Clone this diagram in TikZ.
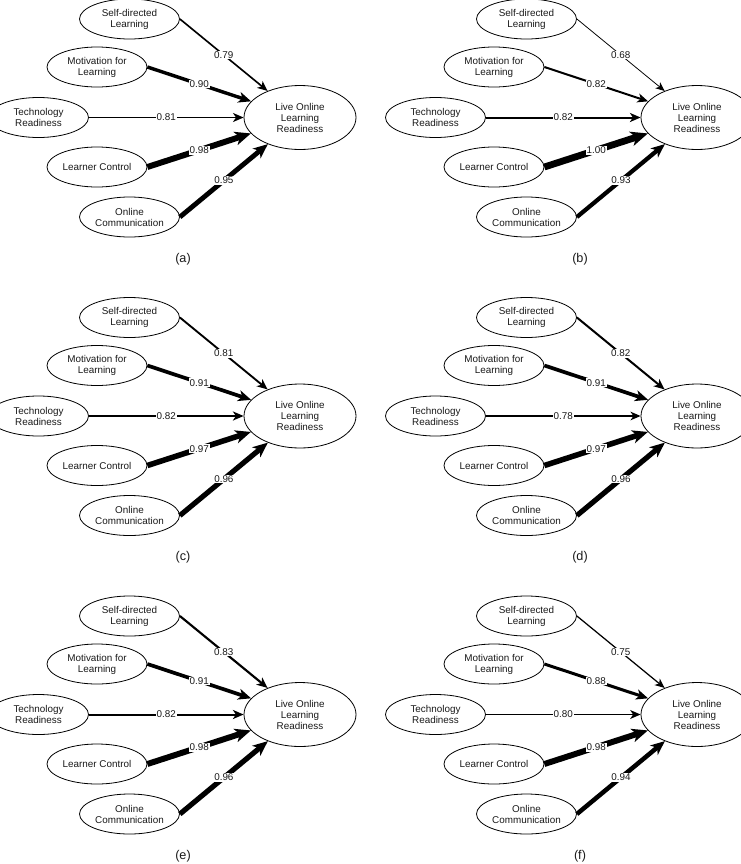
\documentclass[tikz,border=0pt]{standalone}
\usepackage{fontspec}
\setmainfont{Liberation Sans}
\usetikzlibrary{arrows.meta,shapes.geometric}
\definecolor{ink}{HTML}{1A1A1A}
\tikzset{
  nodefont/.style={font=\fontsize{7.4pt}{8.25pt}\selectfont, text=ink},
  src/.style={ellipse, draw, line width=0.6pt, fill=white, inner sep=0pt, minimum width=75, minimum height=30},
  tgt/.style={ellipse, draw, line width=0.6pt, fill=white, inner sep=0pt, minimum width=84, minimum height=48, align=center, nodefont},
  txt/.style={align=center, inner sep=0pt, nodefont},
  lab/.style={midway, fill=white, inner sep=0.6pt, nodefont},
  captext/.style={font=\fontsize{9.5pt}{11pt}\selectfont, text=ink},
  conn/.style={-{Stealth[length=6pt 1.35, width'=0pt 0.85, inset'=0pt 0.28]}},
  coef/.style={line width={0.58pt*exp(6.8*(#1-0.68))}}
}
\newcommand{\sempanel}[8]{%
\begin{scope}[shift={(#1,#2)}]
  \node[tgt] (#3lo) at (300,117.5) {Live Online\\Learning\\Readiness};
  \node[src] (#3sd) at (129.5,19) {};
  \node[txt] (#3sdt) at (#3sd) {Self-directed\\Learning};
  \node[src] (#3mf) at (97,67) {};
  \node[txt] (#3mft) at (#3mf) {Motivation for\\Learning};
  \node[src] (#3tr) at (38.5,117.5) {};
  \node[txt] (#3trt) at (#3tr) {Technology\\Readiness};
  \node[src] (#3lc) at (97,167) {};
  \node[txt] (#3lct) at (#3lc) {Learner Control};
  \node[src] (#3oc) at (129.5,217) {};
  \node[txt] (#3oct) at (#3oc) {Online\\Communication};
  \draw[conn, coef=#4] (#3sd.east) -- (#3lo) node[lab] (#3l1) {#4};
  \draw[conn, coef=#5] (#3mf.east) -- (#3lo) node[lab] (#3l2) {#5};
  \draw[conn, coef=#6] (#3tr.east) -- (#3lo) node[lab] (#3l3) {#6};
  \draw[conn, coef=#7] (#3lc.east) -- (#3lo) node[lab] (#3l4) {#7};
  \draw[conn, coef=#8] (#3oc.east) -- (#3lo) node[lab] (#3l5) {#8};
  \node[captext] (#3cap) at (183,259) {(#3)};
\end{scope}}
\begin{document}
\begin{tikzpicture}[x=0.75pt, y=-0.75pt]
\useasboundingbox (0,0) rectangle (740,864);
\sempanel{0}{0}{a}{0.79}{0.90}{0.81}{0.98}{0.95}
\sempanel{397}{0}{b}{0.68}{0.82}{0.82}{1.00}{0.93}
\sempanel{0}{298.5}{c}{0.81}{0.91}{0.82}{0.97}{0.96}
\sempanel{397}{298.5}{d}{0.82}{0.91}{0.78}{0.97}{0.96}
\sempanel{0}{597}{e}{0.83}{0.91}{0.82}{0.98}{0.96}
\sempanel{397}{597}{f}{0.75}{0.88}{0.80}{0.98}{0.94}
\end{tikzpicture}
\end{document}
